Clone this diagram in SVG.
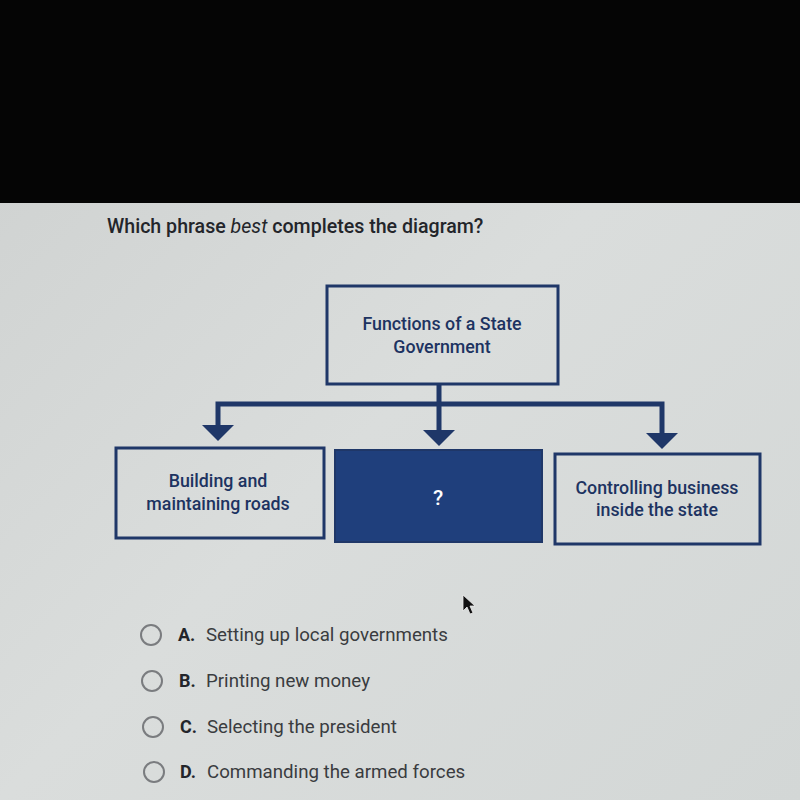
<svg xmlns="http://www.w3.org/2000/svg" width="800" height="800" viewBox="0 0 800 800">
<style>
.box{fill:none;stroke:#1f3768;stroke-width:3}
.fill{fill:#1f3f7c;stroke:#1f3768;stroke-width:2}
.bt{font-family:Roboto,"Liberation Sans",sans-serif;font-size:17.8px;font-weight:500;fill:#1d3361;text-anchor:middle}
.q{font-family:Roboto,"Liberation Sans",sans-serif;font-size:19.6px;font-weight:500;fill:#23252a}
.opt{font-family:Roboto,"Liberation Sans",sans-serif;font-size:18.7px;fill:#3a3c40}
.lt{font-family:Roboto,"Liberation Sans",sans-serif;font-size:18px;font-weight:700;fill:#23252a}
.rad{fill:none;stroke:#7a7c7f;stroke-width:2}
.conn{fill:none;stroke:#1f3768;stroke-width:5}
.head{fill:#1f3768}
</style>
<defs>
<linearGradient id="bg" x1="0" y1="0" x2="1" y2="1">
<stop offset="0" stop-color="#cdd0cf"/>
<stop offset="0.5" stop-color="#dadddc"/>
<stop offset="1" stop-color="#d3d7d6"/>
</linearGradient>
</defs>
<rect x="0" y="0" width="800" height="800" fill="url(#bg)"/>
<rect x="0" y="0" width="800" height="203" fill="#050505"/>
<text class="q" x="107" y="233">Which phrase <tspan font-style="italic" font-weight="400">best</tspan> completes the diagram?</text>
<g id="connectors">
<polyline class="conn" points="439,384 439,404"/>
<polyline class="conn" points="218,426 218,404 662,404 662,434"/>
<polyline class="conn" points="439,404 439,430"/>
<polygon class="head" points="202,425 234,425 218,441"/>
<polygon class="head" points="423,430 455,430 439,446"/>
<polygon class="head" points="646,433 678,433 662,449"/>
</g>
<g id="root">
<rect class="box" x="327" y="286" width="231" height="98"/>
<text class="bt" x="442" y="330">Functions of a State</text>
<text class="bt" x="442" y="353">Government</text>
</g>
<g id="left">
<rect class="box" x="116" y="448" width="208" height="90"/>
<text class="bt" x="218" y="487">Building and</text>
<text class="bt" x="218" y="510">maintaining roads</text>
</g>
<g id="middle">
<rect class="fill" x="335" y="450" width="207" height="92"/>
<text class="bt" x="438" y="505" style="fill:#ffffff;font-size:21px">?</text>
</g>
<g id="right">
<rect class="box" x="555" y="454" width="205" height="90"/>
<text class="bt" x="657" y="494">Controlling business</text>
<text class="bt" x="657" y="516">inside the state</text>
</g>
<g id="options">
<circle class="rad" cx="151" cy="635" r="10"/>
<text class="lt" x="178" y="641">A.</text>
<text class="opt" x="206" y="641">Setting up local governments</text>
<circle class="rad" cx="152" cy="681" r="10"/>
<text class="lt" x="179" y="687">B.</text>
<text class="opt" x="206" y="687">Printing new money</text>
<circle class="rad" cx="153" cy="727" r="10"/>
<text class="lt" x="180" y="733">C.</text>
<text class="opt" x="207" y="733">Selecting the president</text>
<circle class="rad" cx="154" cy="772" r="10"/>
<text class="lt" x="180" y="778">D.</text>
<text class="opt" x="207" y="778">Commanding the armed forces</text>
</g>
<polygon points="463,595 463,611 467,607 470,614 473,613 470,606 475,606" fill="#111" stroke="#eee" stroke-width="0.8"/>
</svg>
